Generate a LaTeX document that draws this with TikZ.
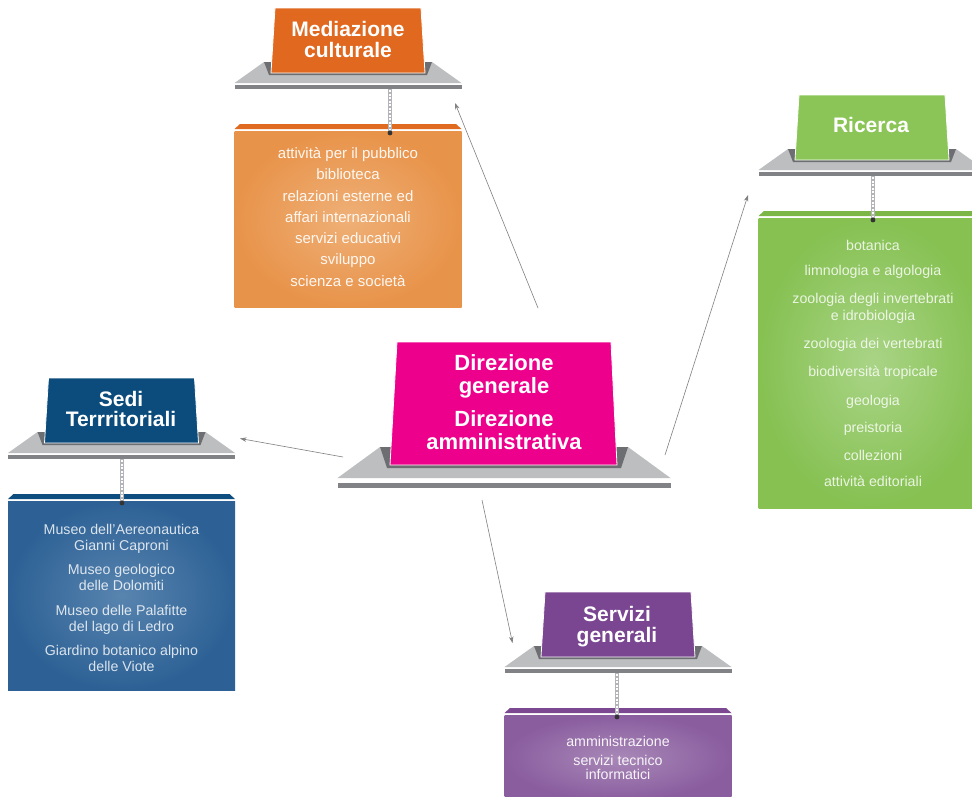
\documentclass[tikz,border=0pt]{standalone}
\usepackage{fontspec}
\setmainfont{Liberation Sans}
\usetikzlibrary{arrows.meta}
\definecolor{trayL}{HTML}{BDBEC0}
\definecolor{trayD}{HTML}{6D6E71}
\definecolor{trayB}{HTML}{808285}
\definecolor{chainG}{HTML}{B3B4B7}
\definecolor{arrowG}{HTML}{808080}
\definecolor{medcard}{HTML}{E0681F}
\definecolor{medstrip}{HTML}{E06A1F}
\definecolor{medin}{HTML}{EFB077}
\definecolor{medout}{HTML}{E8934A}
\definecolor{riccard}{HTML}{8BC558}
\definecolor{ricstrip}{HTML}{7BB646}
\definecolor{ricin}{HTML}{A9D486}
\definecolor{ricout}{HTML}{86C152}
\definecolor{dircard}{HTML}{EC008C}
\definecolor{sedcard}{HTML}{0B4C7C}
\definecolor{sedstrip}{HTML}{0E4D80}
\definecolor{sedin}{HTML}{5884AF}
\definecolor{sedout}{HTML}{2D6195}
\definecolor{sercard}{HTML}{7A4591}
\definecolor{serstrip}{HTML}{7C4892}
\definecolor{serin}{HTML}{A888B7}
\definecolor{serout}{HTML}{8A5D9F}
\tikzset{
  titletext/.style={text=white, font=\fontsize{21}{25}\selectfont\bfseries, anchor=base, inner sep=0pt},
  bigtitle/.style={text=white, font=\fontsize{22}{26}\selectfont\bfseries, anchor=base, inner sep=0pt},
  itemtext/.style={text=white, text opacity=0.92, font=\fontsize{14.2}{17}\selectfont, anchor=base, inner sep=0pt},
  meditem/.style={itemtext, font=\fontsize{15}{18}\selectfont},
  faintitem/.style={itemtext, text opacity=0.82},
  link/.style={draw=arrowG, line width=0.6pt, -{Stealth[length=6.5pt,width=4.5pt]}},
  cardstyle/.style={draw=white, line width=0.8pt},
}
\newcommand\drawunit[8]{%
  \fill[trayL] (#1-84,#2+54) -- (#1+84,#2+54) -- (#1+113.5,#2+75) -- (#1-113.5,#2+75) -- cycle;
  \fill[trayD] (#1-84,#2+54) -- (#1+84,#2+54) -- (#1+79,#2+67) -- (#1-79,#2+67) -- cycle;
  \filldraw[cardstyle, fill=#3] (#1-73,#2) -- (#1+73,#2) -- (#1+77,#2+65) -- (#1-77,#2+65) -- cycle;
  \fill[trayB] (#1-113.5,#2+77) rectangle (#1+113.5,#2+81);
  \fill[#4] (#1-108,#2+116) -- (#1+108,#2+116) -- (#1+113.5,#2+121) -- (#1-113.5,#2+121) -- cycle;
  \shade[inner color=#5, outer color=#6] (#1-113.5,#2+123) rectangle (#1+113.5,#7);
  \draw[chainG, line width=4.5pt] (#8,#2+81) -- (#8,#2+124);
  \draw[white, line width=1.8pt, dash pattern=on 2.2pt off 1.3pt] (#8,#2+82) -- (#8,#2+122);
  \fill[black!80] (#8,#2+125) circle (2.4pt);
}
\begin{document}
\begin{tikzpicture}[x=1pt,y=-1pt]
\clip (0,0) rectangle (972,796);
\fill[white] (0,0) rectangle (972,796);

% units
\drawunit{348}{8}{medcard}{medstrip}{medin}{medout}{307}{390}
\drawunit{872}{95}{riccard}{ricstrip}{ricin}{ricout}{508}{873}
\drawunit{121.5}{378}{sedcard}{sedstrip}{sedin}{sedout}{690}{122}
\drawunit{618}{592}{sercard}{serstrip}{serin}{serout}{800}{617}

% central unit
\fill[trayL] (380,447) -- (628,447) -- (670.5,478) -- (337.5,478) -- cycle;
\fill[trayD] (380,447) -- (628,447) -- (621,468) -- (387,468) -- cycle;
\filldraw[cardstyle, fill=dircard] (397,342) -- (611,342) -- (617,465) -- (390,465) -- cycle;
\fill[trayB] (337.5,483) rectangle (670.5,488);

% titles
\node[titletext] (medT1) at (348,36.7) {Mediazione};
\node[titletext] (medT2) at (348,57.3) {culturale};
\node[titletext] (ricT) at (871,132.7) {Ricerca};
\node[bigtitle] (dirT1) at (504,370) {Direzione};
\node[bigtitle] (dirT2) at (504,393.3) {generale};
\node[bigtitle] (dirT3) at (504,426.7) {Direzione};
\node[bigtitle] (dirT4) at (504,449.3) {amministrativa};
\node[titletext] (sedT1) at (121,406) {Sedi};
\node[titletext] (sedT2) at (121,426.5) {Terrritoriali};
\node[titletext] (serT1) at (617,621.7) {Servizi};
\node[titletext] (serT2) at (617,642.7) {generali};

% Mediazione items
\node[meditem] (m1) at (348,158.5) {attività per il pubblico};
\node[meditem] (m2) at (348,179.5) {biblioteca};
\node[meditem] (m3) at (348,201) {relazioni esterne ed};
\node[meditem] (m4) at (348,222) {affari internazionali};
\node[meditem] (m5) at (348,243.5) {servizi educativi};
\node[meditem] (m6) at (348,264.5) {sviluppo};
\node[meditem] (m7) at (348,286.5) {scienza e società};

% Ricerca items
\node[faintitem] (r1) at (873,250) {botanica};
\node[faintitem] (r2) at (873,275) {limnologia e algologia};
\node[faintitem] (r3) at (873,303.5) {zoologia degli invertebrati};
\node[faintitem] (r4) at (873,320) {e idrobiologia};
\node[faintitem] (r5) at (873,348) {zoologia dei vertebrati};
\node[faintitem] (r6) at (873,376.7) {biodiversità tropicale};
\node[faintitem] (r7) at (873,405) {geologia};
\node[faintitem] (r8) at (873,432.7) {preistoria};
\node[faintitem] (r9) at (873,460.7) {collezioni};
\node[faintitem] (r10) at (873,486.7) {attività editoriali};

% Sedi items
\node[faintitem] (s1) at (121.5,534.3) {Museo dell’Aereonautica};
\node[faintitem] (s2) at (121.5,550.7) {Gianni Caproni};
\node[faintitem] (s3) at (121.5,574.5) {Museo geologico};
\node[faintitem] (s4) at (121.5,590.5) {delle Dolomiti};
\node[faintitem] (s5) at (121.5,615) {Museo delle Palafitte};
\node[faintitem] (s6) at (121.5,631) {del lago di Ledro};
\node[faintitem] (s7) at (121.5,655.5) {Giardino botanico alpino};
\node[faintitem] (s8) at (121.5,671.7) {delle Viote};

% Servizi items
\node[itemtext] (g1) at (618,746.7) {amministrazione};
\node[itemtext] (g2) at (618,765) {servizi tecnico};
\node[itemtext] (g3) at (618,779.3) {informatici};

% connectors
\coordinate (a1s) at (538,308);
\coordinate (a1e) at (455,103);
\coordinate (a2s) at (665,455);
\coordinate (a2e) at (748,195);
\coordinate (a3s) at (343,457);
\coordinate (a3e) at (240,438.5);
\coordinate (a4s) at (482,500);
\coordinate (a4e) at (512.5,643);
\draw[link] (a1s) -- (a1e);
\draw[link] (a2s) -- (a2e);
\draw[link] (a3s) -- (a3e);
\draw[link] (a4s) -- (a4e);
\end{tikzpicture}
\end{document}
